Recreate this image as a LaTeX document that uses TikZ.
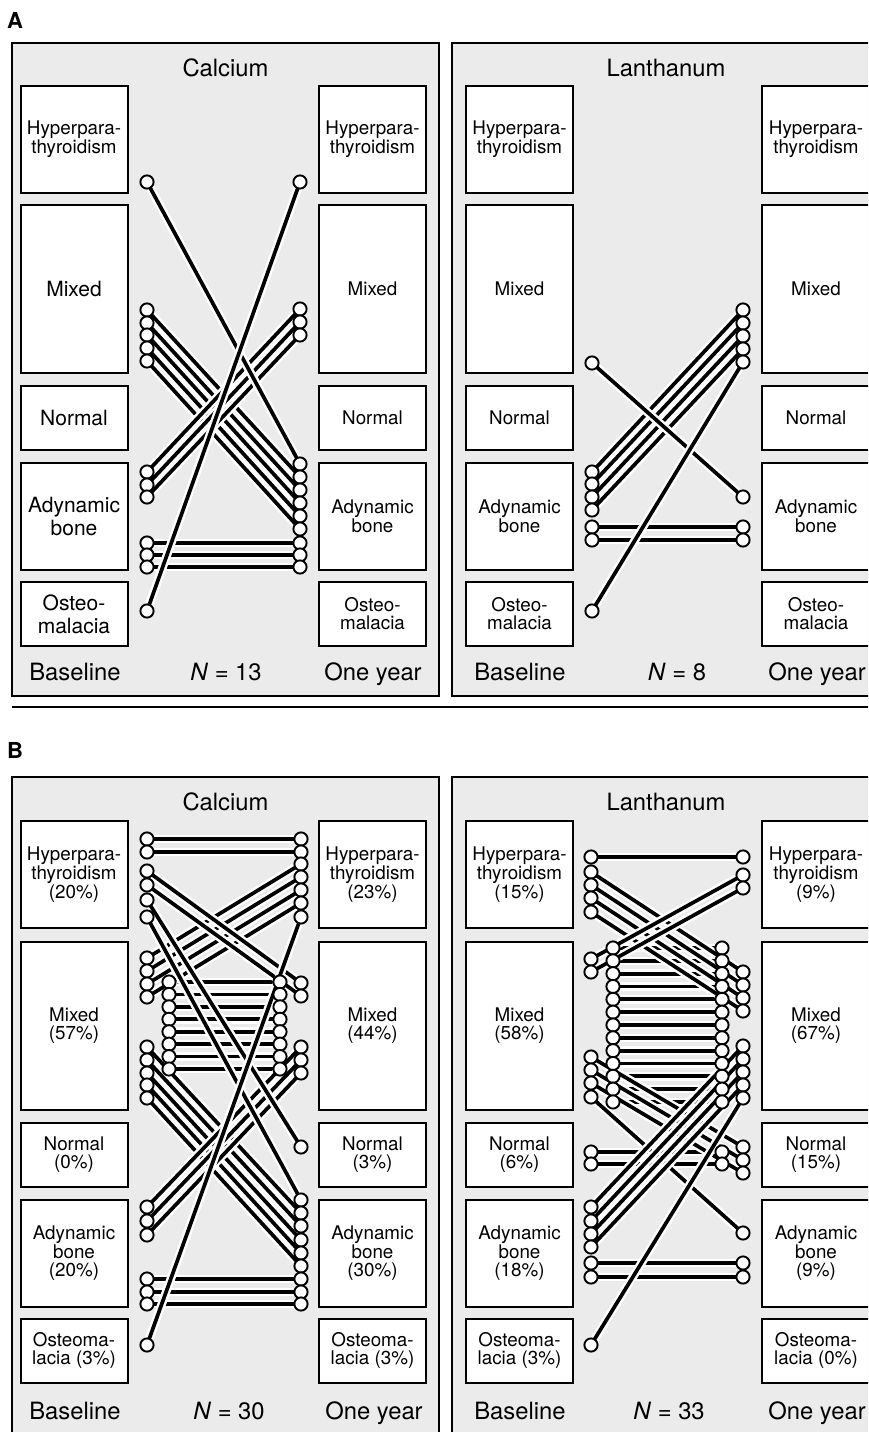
\documentclass[tikz,border=0pt]{standalone}
\usepackage{fontspec}
\setmainfont{TeX Gyre Heros}
\pgfdeclarelayer{back}
\pgfdeclarelayer{lines}
\pgfsetlayers{back,lines,main}
\tikzset{
  panel/.style={draw=black, line width=1.5pt, fill=black!8},
  catbox/.style={draw=black, line width=2pt, fill=white, rectangle, inner sep=0pt, align=center},
  lbl/.style={font=\fontsize{18.8}{17.8}\selectfont},
  lblbig/.style={font=\fontsize{21}{23}\selectfont},
  cb/.style={catbox, lbl, minimum width=107pt},
  hh/.style={minimum height=107pt},
  mh/.style={minimum height=168pt},
  nh/.style={minimum height=64pt},
  ah/.style={minimum height=107pt},
  oh/.style={minimum height=64pt},
  ttl/.style={font=\fontsize{23.8}{26}\selectfont, inner sep=0pt, anchor=base},
  dot/.style={circle, draw=black, fill=white, line width=1.9pt, minimum size=13.2pt, inner sep=0pt},
  conn/.style={draw=black, line width=3.7pt, preaction={draw=white, line width=8.6pt}},
  panlbl/.style={font=\fontsize{22}{26}\selectfont\bfseries, inner sep=0pt}
}
\begin{document}
\begin{tikzpicture}[x=1pt,y=-1pt]
\useasboundingbox (0,0) rectangle (868,1432);

% ---------------- background layer: panels and category boxes
\begin{pgfonlayer}{back}
\clip (0,0) rectangle (868,1432);
\fill[white] (0,0) rectangle (868,1432);
\draw[panel] (12,43) rectangle (439,696);
\draw[panel] (452,43) rectangle (884,696);
\draw[line width=1.5pt] (12,707) -- (870,707);
\draw[panel] (12,777) rectangle (439,1450);
\draw[panel] (452,777) rectangle (884,1450);

% A calcium left
\node[cb,hh] (acLhyp) at (74,139.5) {Hyperpara-\\thyroidism};
\node[cb,mh,lblbig] (acLmix) at (74,289) {Mixed};
\node[cb,nh,lblbig] (acLnor) at (74,418) {Normal};
\node[cb,ah,lblbig] (acLady) at (74,516) {Adynamic\\bone};
\node[cb,oh,lblbig] (acLost) at (74,614) {Osteo-\\malacia};
% A calcium right
\node[cb,hh] (acRhyp) at (372.5,139.5) {Hyperpara-\\thyroidism};
\node[cb,mh] (acRmix) at (372.5,289) {Mixed};
\node[cb,nh] (acRnor) at (372.5,418) {Normal};
\node[cb,ah] (acRady) at (372.5,516) {Adynamic\\bone};
\node[cb,oh] (acRost) at (372.5,614) {Osteo-\\malacia};
% A lanthanum left
\node[cb,hh] (alLhyp) at (519.5,139.5) {Hyperpara-\\thyroidism};
\node[cb,mh] (alLmix) at (519.5,289) {Mixed};
\node[cb,nh] (alLnor) at (519.5,418) {Normal};
\node[cb,ah] (alLady) at (519.5,516) {Adynamic\\bone};
\node[cb,oh] (alLost) at (519.5,614) {Osteo-\\malacia};
% A lanthanum right
\node[cb,hh,minimum width=108pt] (alRhyp) at (816,139.5) {Hyperpara-\\thyroidism};
\node[cb,mh,minimum width=108pt] (alRmix) at (816,289) {Mixed};
\node[cb,nh,minimum width=108pt] (alRnor) at (816,418) {Normal};
\node[cb,ah,minimum width=108pt] (alRady) at (816,516) {Adynamic\\bone};
\node[cb,oh,minimum width=108pt] (alRost) at (816,614) {Osteo-\\malacia};

% B calcium left
\node[cb,hh] (bcLhyp) at (74,874.5) {Hyperpara-\\thyroidism\\(20\%)};
\node[cb,mh] (bcLmix) at (74,1026) {Mixed\\(57\%)};
\node[cb,nh] (bcLnor) at (74,1155) {Normal\\(0\%)};
\node[cb,ah] (bcLady) at (74,1253) {Adynamic\\bone\\(20\%)};
\node[cb,oh] (bcLost) at (74,1350.5) {Osteoma-\\lacia (3\%)};
% B calcium right
\node[cb,hh] (bcRhyp) at (372.5,874.5) {Hyperpara-\\thyroidism\\(23\%)};
\node[cb,mh] (bcRmix) at (372.5,1026) {Mixed\\(44\%)};
\node[cb,nh] (bcRnor) at (372.5,1155) {Normal\\(3\%)};
\node[cb,ah] (bcRady) at (372.5,1253) {Adynamic\\bone\\(30\%)};
\node[cb,oh] (bcRost) at (372.5,1350.5) {Osteoma-\\lacia (3\%)};
% B lanthanum left
\node[cb,hh] (blLhyp) at (519.5,874.5) {Hyperpara-\\thyroidism\\(15\%)};
\node[cb,mh] (blLmix) at (519.5,1026) {Mixed\\(58\%)};
\node[cb,nh] (blLnor) at (519.5,1155) {Normal\\(6\%)};
\node[cb,ah] (blLady) at (519.5,1253) {Adynamic\\bone\\(18\%)};
\node[cb,oh] (blLost) at (519.5,1350.5) {Osteoma-\\lacia (3\%)};
% B lanthanum right
\node[cb,hh,minimum width=108pt] (blRhyp) at (816,874.5) {Hyperpara-\\thyroidism\\(9\%)};
\node[cb,mh,minimum width=108pt] (blRmix) at (816,1026) {Mixed\\(67\%)};
\node[cb,nh,minimum width=108pt] (blRnor) at (816,1155) {Normal\\(15\%)};
\node[cb,ah,minimum width=108pt] (blRady) at (816,1253) {Adynamic\\bone\\(9\%)};
\node[cb,oh,minimum width=108pt] (blRost) at (816,1350.5) {Osteoma-\\lacia (0\%)};
\end{pgfonlayer}

% ---------------- texts
\node[panlbl] (labA) at (15,20) {A};
\node[panlbl] (labB) at (15,750) {B};
\node[ttl] (tAc) at (225.5,76) {Calcium};
\node[ttl] (tAl) at (666,76) {Lanthanum};
\node[ttl] (tBc) at (225.5,810) {Calcium};
\node[ttl] (tBl) at (666,810) {Lanthanum};
\node[ttl] (bAc1) at (75,680) {Baseline};
\node[ttl] (bAc2) at (226,680) {\textit{N} = 13};
\node[ttl] (bAc3) at (373,680) {One year};
\node[ttl] (bAl1) at (520,680) {Baseline};
\node[ttl] (bAl2) at (677,680) {\textit{N} = 8};
\node[ttl] (bAl3) at (817,680) {One year};
\node[ttl] (bBc1) at (75,1419) {Baseline};
\node[ttl] (bBc2) at (229,1419) {\textit{N} = 30};
\node[ttl] (bBc3) at (374,1419) {One year};
\node[ttl] (bBl1) at (520,1419) {Baseline};
\node[ttl] (bBl2) at (669,1419) {\textit{N} = 33};
\node[ttl] (bBl3) at (817,1419) {One year};

% ================= A calcium
\foreach \i/\y in {1/182,2/310,3/323,4/335,5/348,6/361,7/472,8/485,9/497,10/543,11/555,12/567,13/611}
  \node[dot] (acL\i) at (147,\y) {};
\foreach \i/\y in {1/182,2/309,3/322,4/335,5/464,6/477,7/490,8/503,9/516,10/529,11/543,12/555,13/567}
  \node[dot] (acR\i) at (300,\y) {};
\begin{pgfonlayer}{lines}
\foreach \a/\b in {10/11,11/12,12/13,2/6,3/7,4/8,5/9,6/10,7/2,8/3,9/4,1/5,13/1}
  \draw[conn] (acL\a.center) -- (acR\b.center);
\end{pgfonlayer}

% ================= A lanthanum
\foreach \i/\y in {1/363,2/472,3/484,4/497,5/510,6/527,7/540,8/611}
  \node[dot] (alL\i) at (592,\y) {};
\foreach \i/\y in {1/310,2/323,3/336,4/349,5/362,6/497,7/527,8/540}
  \node[dot] (alR\i) at (743,\y) {};
\begin{pgfonlayer}{lines}
\foreach \a/\b in {6/7,7/8,2/1,3/2,4/3,5/4,1/6,8/5}
  \draw[conn] (alL\a.center) -- (alR\b.center);
\end{pgfonlayer}

% ================= B calcium
\foreach \i/\y in {1/839,2/852,3/871,4/885,5/900,6/917,7/958,8/971,9/984,10/997,11/1047,12/1060,13/1073,14/1085,15/1098,16/1207,17/1221,18/1235,19/1279,20/1292,21/1304,22/1345}
  \node[dot] (bcL\i) at (147,\y) {};
\foreach \i/\y in {1/839,2/852,3/864,4/877,5/890,6/903,7/917,8/983,9/996,10/1047,11/1060,12/1073,13/1147,14/1200,15/1213,16/1226,17/1240,18/1253,19/1266,20/1279,21/1292,22/1304}
  \node[dot] (bcR\i) at (301,\y) {};
\foreach \k in {1,...,8}{
  \pgfmathsetmacro{\yy}{982+12.43*(\k-1)}
  \node[dot] (bcI\k) at (169,\yy) {};
  \node[dot] (bcJ\k) at (280,\yy) {};
}
\begin{pgfonlayer}{lines}
\foreach \k in {1,...,8}
  \draw[conn] (bcI\k.center) -- (bcJ\k.center);
\foreach \a/\b in {1/1,2/2,19/20,20/21,21/22,7/3,8/4,9/5,10/6,3/8,4/9,11/15,12/16,13/17,14/18,15/19,16/10,17/11,18/12,5/13,6/14,22/7}
  \draw[conn] (bcL\a.center) -- (bcR\b.center);
\end{pgfonlayer}

% ================= B lanthanum
\foreach \i/\y in {1/857,2/872,3/885,4/898,5/912,6/959,7/972,8/1057,9/1070,10/1083,11/1097,12/1152,13/1164,14/1207,15/1221,16/1234,17/1247,18/1263,19/1277,20/1345}
  \node[dot] (blL\i) at (591,\y) {};
\foreach \i/\y in {1/857,2/875,3/888,4/972,5/985,6/998,7/1011,8/1046,9/1059,10/1072,11/1085,12/1098,13/1147,14/1160,15/1173,16/1233,17/1263,18/1277}
  \node[dot] (blR\i) at (743,\y) {};
\foreach \k in {1,...,13}{
  \pgfmathsetmacro{\yy}{948+12.83*(\k-1)}
  \node[dot] (blI\k) at (613,\yy) {};
  \node[dot] (blJ\k) at (722,\yy) {};
}
\node[dot] (blJ14) at (722,1152) {};
\node[dot] (blJ15) at (722,1164) {};
\begin{pgfonlayer}{lines}
\foreach \k in {1,...,13}
  \draw[conn] (blI\k.center) -- (blJ\k.center);
\draw[conn] (blL12.center) -- (blJ14.center);
\draw[conn] (blL13.center) -- (blJ15.center);
\foreach \a/\b in {1/1,18/17,19/18,2/4,3/5,4/6,5/7,6/2,7/3,8/13,9/14,10/15,11/16,14/8,15/9,16/10,17/11,20/12}
  \draw[conn] (blL\a.center) -- (blR\b.center);
\end{pgfonlayer}
\end{tikzpicture}
\end{document}
